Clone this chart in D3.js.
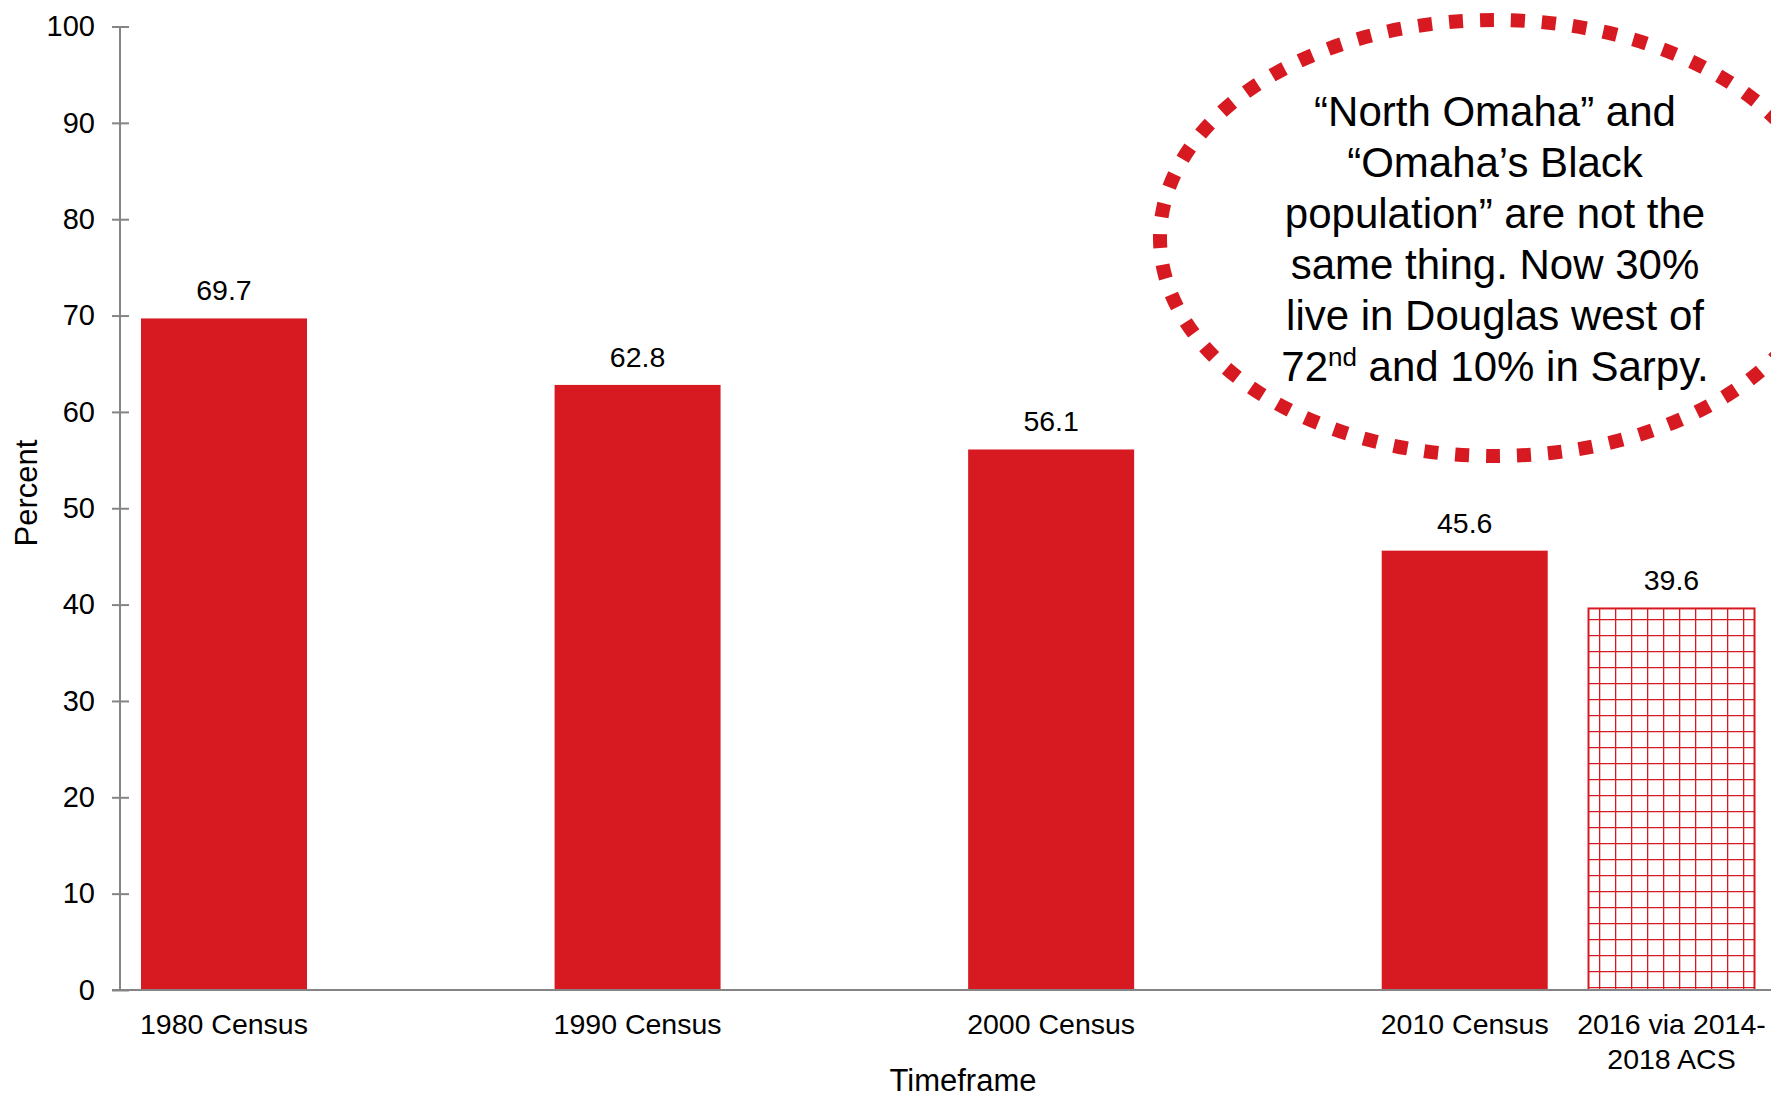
<!DOCTYPE html>
<html>
<head>
<meta charset="utf-8">
<script src="https://cdn.jsdelivr.net/npm/d3@7"></script>
<style>
  html, body { margin: 0; padding: 0; background: #fff; }
  text { font-family: "Liberation Sans", Arial, sans-serif; fill: #000; }
</style>
</head>
<body>
<svg id="chart" width="1771" height="1097"></svg>
<script>
// data
const categories = ['1980 Census', '1990 Census', '2000 Census', '2010 Census', '2016 via 2014-2018 ACS'];
const categoryLines = [['1980 Census'], ['1990 Census'], ['2000 Census'], ['2010 Census'], ['2016 via 2014-', '2018 ACS']];
const slots = [0, 1, 2, 3, 3.5];          // uneven spacing along the axis
const values = [69.7, 62.8, 56.1, 45.6, 39.6];
const estimated = [false, false, false, false, true];
const yTicks = [0, 10, 20, 30, 40, 50, 60, 70, 80, 90, 100];
const noteLines = ['\u201CNorth Omaha\u201D and', '\u201COmaha\u2019s Black', 'population\u201D are not the',
  'same thing. Now 30%', 'live in Douglas west of', null];

const red = '#d71a21';
const axisGrey = '#858585';

const svg = d3.select('#chart');

const x = d3.scaleLinear().domain([0, 3.5]).range([224, 1671.5]);
const y = d3.scaleLinear().domain([0, 100]).range([990, 26.5]);
const barW = 166;

// hatch pattern for the ACS estimate
const defs = svg.append('defs');
const pat = defs.append('pattern')
  .attr('id', 'grid')
  .attr('patternUnits', 'userSpaceOnUse')
  .attr('width', 16).attr('height', 16)
  .attr('x', 15).attr('y', 11);
pat.append('rect').attr('width', 16).attr('height', 16).attr('fill', '#fff');
pat.append('path')
  .attr('d', 'M0,0H16M0,0V16')
  .attr('stroke', red).attr('stroke-width', 2.6).attr('fill', 'none');

// bars
const data = categories.map((c, i) => ({ c, slot: slots[i], v: values[i], est: estimated[i], lines: categoryLines[i] }));

svg.append('g').selectAll('rect')
  .data(data)
  .join('rect')
  .attr('x', d => x(d.slot) - barW / 2)
  .attr('y', d => y(d.v))
  .attr('width', barW)
  .attr('height', d => y(0) - y(d.v))
  .attr('fill', d => d.est ? 'url(#grid)' : red)
  .attr('stroke', d => d.est ? red : 'none')
  .attr('stroke-width', 2);

// value labels
svg.append('g').selectAll('text')
  .data(data)
  .join('text')
  .attr('x', d => x(d.slot))
  .attr('y', d => y(d.v) - 18)
  .attr('text-anchor', 'middle')
  .style('font-size', '28.5px')
  .text(d => d.v.toFixed(1));

// y axis
const yAxis = d3.axisLeft(y).tickValues(yTicks).tickSize(8).tickPadding(17);
const gy = svg.append('g').attr('transform', 'translate(120,0)').call(yAxis);
gy.select('.domain').attr('stroke', axisGrey).attr('stroke-width', 2).attr('d', `M0,${y(100)}V${y(0)}`);
gy.selectAll('.tick line').attr('stroke', axisGrey).attr('stroke-width', 2).attr('x1', 9);
gy.selectAll('.tick text').style('font-size', '29px').attr('fill', '#000');

// x axis baseline
svg.append('line')
  .attr('x1', 112).attr('x2', 1771)
  .attr('y1', y(0)).attr('y2', y(0))
  .attr('stroke', axisGrey).attr('stroke-width', 2);

// category labels
const xl = svg.append('g').selectAll('text')
  .data(data)
  .join('text')
  .attr('x', d => x(d.slot))
  .attr('y', 1034)
  .attr('text-anchor', 'middle')
  .style('font-size', '28.5px');
xl.selectAll('tspan')
  .data(d => d.lines.map(l => ({ l, cx: x(d.slot) })))
  .join('tspan')
  .attr('x', t => t.cx)
  .attr('dy', (t, i) => i === 0 ? 0 : 35)
  .text(t => t.l);

// axis titles
svg.append('text')
  .attr('x', 963).attr('y', 1091)
  .attr('text-anchor', 'middle')
  .style('font-size', '31px')
  .text('Timeframe');

svg.append('text')
  .attr('transform', 'translate(37,493) rotate(-90)')
  .attr('text-anchor', 'middle')
  .style('font-size', '31px')
  .text('Percent');

// dotted ellipse annotation
const note = svg.append('g');
note.append('ellipse')
  .attr('cx', 1495).attr('cy', 238)
  .attr('rx', 335).attr('ry', 218)
  .attr('fill', 'none')
  .attr('stroke', red)
  .attr('stroke-width', 14)
  .attr('stroke-dasharray', '14 17');

const noteText = note.append('text')
  .attr('text-anchor', 'middle')
  .style('font-size', '42px');
noteLines.forEach((line, i) => {
  const t = noteText.append('tspan').attr('x', 1495).attr('y', 126 + i * 51);
  if (line) {
    t.text(line);
  } else {
    t.text('72');
    noteText.append('tspan').attr('dy', -15).style('font-size', '26px').text('nd');
    noteText.append('tspan').attr('dy', 15).text(' and 10% in Sarpy.');
  }
});
</script>
</body>
</html>
